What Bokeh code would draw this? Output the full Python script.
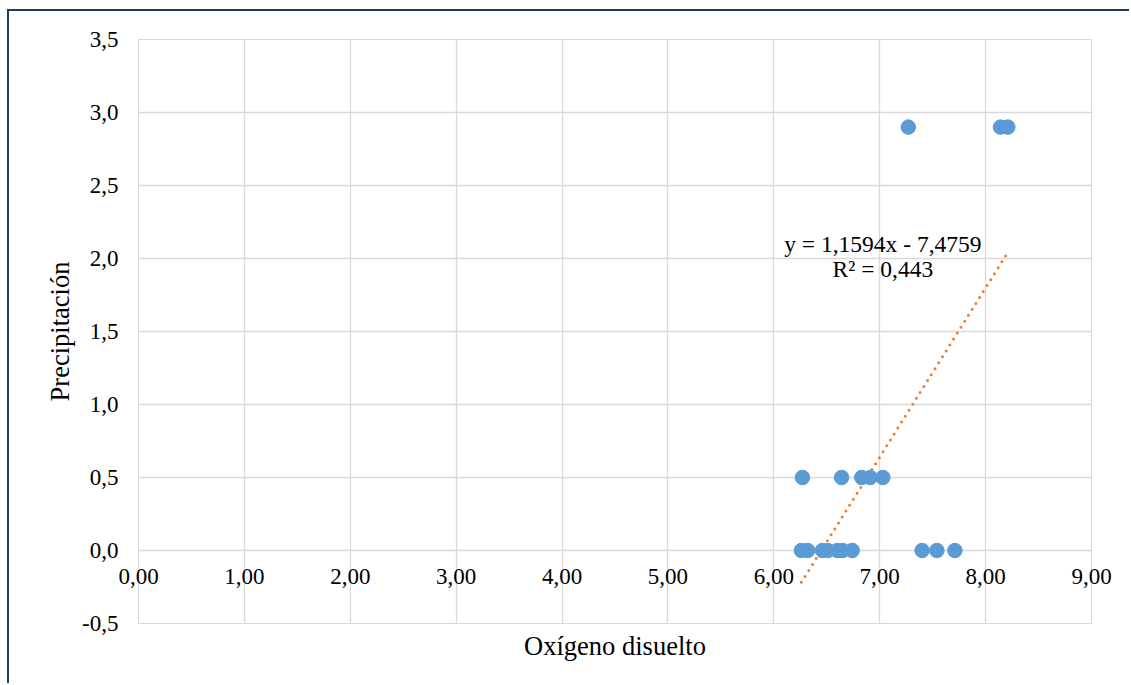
from bokeh.plotting import figure
from bokeh.models import (Range1d, FixedTicker, CustomJSTickFormatter, ColumnDataSource,
                          Label, Title)
from bokeh.embed import file_html
from bokeh.resources import INLINE

# ---- data ----
oxigeno = [6.27, 6.64, 6.83, 6.91, 7.03,
           6.26, 6.32, 6.46, 6.51, 6.60, 6.65, 6.74, 7.40, 7.54, 7.71,
           7.27, 8.14, 8.21]
precipitacion = [0.5, 0.5, 0.5, 0.5, 0.5,
                 0.0, 0.0, 0.0, 0.0, 0.0, 0.0, 0.0, 0.0, 0.0, 0.0,
                 2.9, 2.9, 2.9]
pendiente = 1.1594
intercepto = -7.4759
r2 = 0.443
x_ticks = [0, 1, 2, 3, 4, 5, 6, 7, 8, 9]
y_ticks = [-0.5, 0.0, 0.5, 1.0, 1.5, 2.0, 2.5, 3.0, 3.5]

FONT = "Liberation Serif"
GRID = "#D9D9D9"

p = figure(width=1122, height=674, output_backend="svg", toolbar_location=None,
           x_range=Range1d(0, 9), y_range=Range1d(-0.5, 3.5),
           min_border_left=129, min_border_right=40, min_border_top=28, min_border_bottom=62)
p.margin = (9, 0, 0, 7)
p.styles = {"border-left": "2px solid #1F3864", "border-top": "2px solid #1F3864"}
p.outline_line_color = GRID
p.background_fill_color = "white"
p.border_fill_color = "white"

# grid
p.xgrid.ticker = FixedTicker(ticks=x_ticks)
p.ygrid.ticker = FixedTicker(ticks=y_ticks)
p.grid.grid_line_color = GRID
p.grid.grid_line_width = 1.3

# x axis: labels sit just under the y = 0 line (axis crosses at 0)
xa = p.xaxis[0]
xa.ticker = FixedTicker(ticks=x_ticks)
xa.formatter = CustomJSTickFormatter(code="return tick.toFixed(2).replace('.', ',');")
xa.axis_line_color = GRID
xa.major_tick_line_color = None
xa.minor_tick_line_color = None
xa.major_tick_out = 0
xa.major_tick_in = 0
xa.major_label_standoff = -55
xa.major_label_text_font = FONT
xa.major_label_text_font_size = "23px"
xa.major_label_text_color = "#000000"

ya = p.yaxis[0]
ya.ticker = FixedTicker(ticks=y_ticks)
ya.formatter = CustomJSTickFormatter(code="return tick.toFixed(1).replace('.', ',');")
ya.axis_line_color = None
ya.major_tick_line_color = None
ya.minor_tick_line_color = None
ya.major_tick_out = 0
ya.major_label_standoff = 20
ya.major_label_text_font = FONT
ya.major_label_text_font_size = "23px"
ya.major_label_text_color = "#000000"
ya.axis_label = "Precipitación"
ya.axis_label_text_font = FONT
ya.axis_label_text_font_size = "26.5px"
ya.axis_label_text_font_style = "normal"
ya.axis_label_text_color = "#000000"
ya.axis_label_standoff = 4

p.add_layout(Title(text="Oxígeno disuelto", align="center", text_font=FONT,
                   text_font_size="26.5px", text_font_style="normal",
                   text_color="#000000"), "below")

# trend line (linear fit, drawn over the data's x extent)
x0, x1 = min(oxigeno), max(oxigeno)
trend = ColumnDataSource(dict(x=[x0, x1], y=[pendiente * x0 + intercepto, pendiente * x1 + intercepto]))
p.line("x", "y", source=trend, line_color="#ED7D31", line_width=3, line_dash="0 7",
       line_cap="round")

src = ColumnDataSource(dict(x=oxigeno, y=precipitacion))
p.scatter("x", "y", source=src, size=14.5, fill_color="#5B9BD5", line_color="#5B9BD5")

eq = "y = %sx - %s" % (f"{pendiente:.4f}".replace(".", ","), f"{-intercepto:.4f}".replace(".", ","))
p.add_layout(Label(x=7.03, y=2.096, text=eq, text_align="center", text_baseline="middle",
                   text_font=FONT, text_font_size="23.5px", text_color="#000000"))
p.add_layout(Label(x=7.03, y=1.925, text="R² = " + f"{r2:.3f}".replace(".", ","),
                   text_align="center", text_baseline="middle",
                   text_font=FONT, text_font_size="23.5px", text_color="#000000"))

open("out.html", "w").write(file_html(p, INLINE))
